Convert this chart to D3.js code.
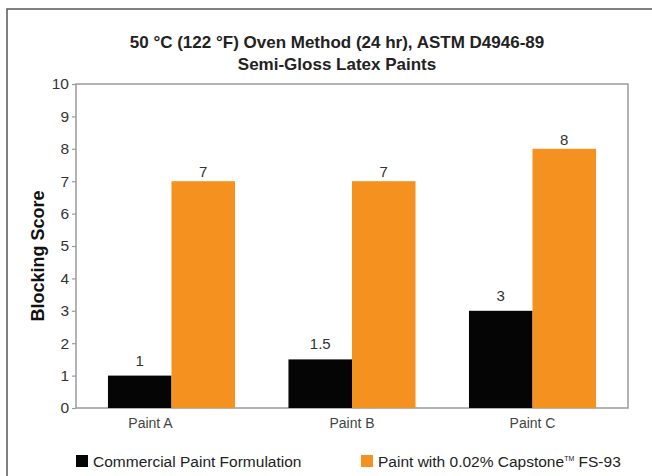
<!DOCTYPE html>
<html>
<head>
<meta charset="utf-8">
<script src="https://cdn.jsdelivr.net/npm/d3@7"></script>
<style>
  body { margin: 0; background: #fff; }
  svg { display: block; font-family: "Liberation Sans", Arial, sans-serif; }
</style>
</head>
<body>
<svg id="chart" width="652" height="476"></svg>
<script>
const categories = ["Paint A", "Paint B", "Paint C"];
const seriesNames = ["Commercial Paint Formulation", "Paint with 0.02% Capstone\u2122 FS-93"];
const commercial = [1, 1.5, 3];
const capstone = [7, 7, 8];
const yTicks = [0, 1, 2, 3, 4, 5, 6, 7, 8, 9, 10];
const colors = ["#050505", "#f5921f"];

const width = 652, height = 476;
const margin = { top: 84, right: 24, bottom: 68, left: 76 };

const svg = d3.select("#chart");

// outer frame, clipped by the viewport on the right and bottom
svg.append("rect")
  .attr("x", 7).attr("y", 9)
  .attr("width", 700).attr("height", 500)
  .attr("fill", "none")
  .attr("stroke", "#555")
  .attr("stroke-width", 1.5);

const x0 = d3.scaleBand()
  .domain(categories)
  .range([margin.left, width - margin.right])
  .paddingInner(0.296)
  .paddingOuter(0.177);

const x1 = d3.scaleBand()
  .domain([0, 1])
  .range([0, x0.bandwidth()]);

const y = d3.scaleLinear()
  .domain([0, 10])
  .range([height - margin.bottom, margin.top]);

const rows = categories.map((c, i) => ({ cat: c, values: [commercial[i], capstone[i]] }));

// plot frame
svg.append("rect")
  .attr("x", margin.left).attr("y", margin.top)
  .attr("width", width - margin.left - margin.right)
  .attr("height", y(0) - margin.top)
  .attr("fill", "none")
  .attr("stroke", "#9a9a9a")
  .attr("stroke-width", 1.5);

// bars
const group = svg.append("g")
  .selectAll("g")
  .data(rows)
  .join("g")
  .attr("transform", d => `translate(${x0(d.cat)},0)`);

group.selectAll("rect")
  .data(d => d.values.map((v, k) => ({ v, k })))
  .join("rect")
  .attr("x", d => x1(d.k))
  .attr("y", d => y(d.v))
  .attr("width", x1.bandwidth())
  .attr("height", d => y(0) - y(d.v))
  .attr("fill", d => colors[d.k]);

group.selectAll("text")
  .data(d => d.values.map((v, k) => ({ v, k })))
  .join("text")
  .attr("x", d => x1(d.k) + x1.bandwidth() / 2)
  .attr("y", d => y(d.v) - (d.k === 0 ? 10 : 4))
  .attr("text-anchor", "middle")
  .attr("font-size", 15)
  .attr("fill", "#333")
  .text(d => d.v);

// y axis
const yAxis = svg.append("g")
  .attr("transform", `translate(${margin.left},0)`)
  .call(d3.axisLeft(y).tickValues(yTicks).tickSize(4).tickPadding(3));
yAxis.select(".domain").remove();
yAxis.selectAll(".tick line").attr("stroke", "#9a9a9a").attr("stroke-width", 1.2);
yAxis.selectAll(".tick text")
  .attr("font-size", 15.5)
  .attr("font-family", "Liberation Sans, Arial, sans-serif")
  .attr("fill", "#333");

// x axis labels
const xAxis = svg.append("g")
  .attr("transform", `translate(0,${y(0)})`)
  .call(d3.axisBottom(x0).tickSize(0).tickPadding(10));
xAxis.select(".domain").remove();
xAxis.selectAll(".tick text")
  .attr("font-size", 14)
  .attr("font-family", "Liberation Sans, Arial, sans-serif")
  .attr("fill", "#444")
  .attr("dx", (d, i) => i === 0 ? -21 : 0);

// titles
svg.append("text")
  .attr("x", 337).attr("y", 48)
  .attr("text-anchor", "middle")
  .attr("font-size", 17).attr("font-weight", "bold")
  .attr("fill", "#222")
  .text("50 \u00b0C (122 \u00b0F) Oven Method (24 hr), ASTM D4946-89");
svg.append("text")
  .attr("x", 337).attr("y", 70)
  .attr("text-anchor", "middle")
  .attr("font-size", 17).attr("font-weight", "bold")
  .attr("fill", "#222")
  .text("Semi-Gloss Latex Paints");

svg.append("text")
  .attr("transform", "translate(44,256) rotate(-90)")
  .attr("text-anchor", "middle")
  .attr("font-size", 18).attr("font-weight", "bold")
  .attr("fill", "#111")
  .text("Blocking Score");

// legend
const legendX = [76, 361];
const legend = svg.append("g")
  .selectAll("g")
  .data(seriesNames)
  .join("g")
  .attr("transform", (d, i) => `translate(${legendX[i]},455)`);

legend.append("rect")
  .attr("width", 12).attr("height", 12)
  .attr("fill", (d, i) => colors[i]);

legend.append("text")
  .attr("x", 17).attr("y", 11.5)
  .attr("font-size", 15.5)
  .attr("fill", "#222")
  .each(function (d) {
    const t = d3.select(this);
    const parts = d.split("\u2122");
    t.append("tspan").text(parts[0]);
    if (parts.length > 1) {
      t.append("tspan").attr("font-size", 7).attr("dy", -6).text("TM");
      t.append("tspan").attr("dy", 6).text(parts[1]);
    }
  });
</script>
</body>
</html>
